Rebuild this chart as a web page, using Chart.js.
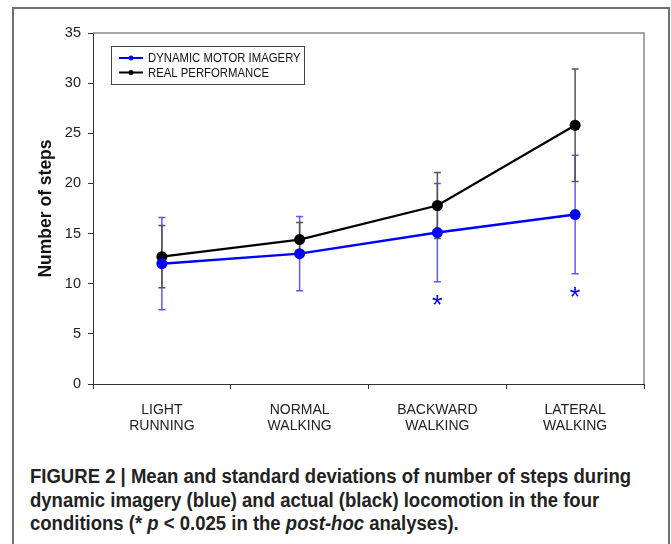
<!DOCTYPE html>
<html>
<head>
<meta charset="utf-8">
<title>Number of steps</title>
<script src="https://cdn.jsdelivr.net/npm/chart.js"></script>
<style>
  html, body { margin: 0; padding: 0; background: #fff; }
  body { width: 671px; height: 544px; position: relative; overflow: hidden; font-family: 'Liberation Sans', Arial, sans-serif; }
  .frame { position: absolute; left: 12px; top: 7px; width: 658px; height: 600px; border: 2px solid #707070; border-bottom: none; box-sizing: border-box; }
  .chart-box { position: absolute; left: 0; top: 0; width: 671px; height: 445px; }
  .caption { position: absolute; left: 30px; top: 465px; font-family: 'Liberation Sans', Arial, sans-serif; font-weight: bold; font-size: 19.5px; line-height: 23.5px; color: #222; white-space: nowrap; transform: scaleX(0.95); transform-origin: 0 0; }
</style>
</head>
<body>
  <div class="frame"></div>
  <div class="chart-box"><canvas id="stepsChart"></canvas></div>
  <div class="caption">FIGURE 2 | Mean and standard deviations of number of steps during<br>dynamic imagery (blue) and actual (black) locomotion in the four<br>conditions (* <i>p</i> &lt; 0.025 in the <i>post-hoc</i> analyses).</div>

<script>
// data
const categories = [['LIGHT', 'RUNNING'], ['NORMAL', 'WALKING'], ['BACKWARD', 'WALKING'], ['LATERAL', 'WALKING']];
const imageryMean = [12.0, 13.0, 15.1, 16.9];
const imagerySD = [4.6, 3.7, 4.9, 5.9];
const realMean = [12.7, 14.4, 17.8, 25.8];
const realSD = [3.1, 1.7, 3.3, 5.6];
// where the * marks sit (y value), null = no mark
const sigMarks = [null, null, 8.5, 9.3];
const yMin = 0, yMax = 35, yStep = 5;

const BLUE = '#0000ff';
const BLACK = '#000000';

// error bars + gray frame on top/right of plot
const errorBars = {
  id: 'errorBars',
  beforeDatasetsDraw(chart) {
    const { ctx, chartArea: a, scales: { x, y } } = chart;
    ctx.save();
    ctx.strokeStyle = '#8a8a8a';
    ctx.lineWidth = 1.5;
    ctx.beginPath();
    ctx.moveTo(a.left, a.top);
    ctx.lineTo(a.right, a.top);
    ctx.lineTo(a.right, a.bottom);
    ctx.stroke();

    const sets = [
      { mean: imageryMean, sd: imagerySD, color: '#5a5aff' },
      { mean: realMean, sd: realSD, color: '#555555' }
    ];
    sets.forEach(s => {
      ctx.strokeStyle = s.color;
      ctx.lineWidth = 1.5;
      s.mean.forEach((m, i) => {
        const px = x.getPixelForValue(i);
        const top = y.getPixelForValue(m + s.sd[i]);
        const bot = y.getPixelForValue(m - s.sd[i]);
        ctx.beginPath();
        ctx.moveTo(px, top); ctx.lineTo(px, bot);
        ctx.moveTo(px - 3.5, top); ctx.lineTo(px + 3.5, top);
        ctx.moveTo(px - 3.5, bot); ctx.lineTo(px + 3.5, bot);
        ctx.stroke();
      });
    });
    ctx.restore();
  },
  afterDraw(chart) {
    const { ctx, chartArea: a, scales: { x, y } } = chart;
    ctx.save();

    // y axis title
    ctx.translate(46, (a.top + a.bottom) / 2);
    ctx.rotate(-Math.PI / 2);
    ctx.font = 'bold 17.5px "Liberation Sans", Arial, sans-serif';
    ctx.fillStyle = '#111';
    ctx.textAlign = 'center';
    ctx.textBaseline = 'middle';
    ctx.fillText('Number of steps', 0, 0);
    ctx.setTransform(1, 0, 0, 1, 0, 0);

    // significance stars
    ctx.font = '27px "Liberation Sans", Arial, sans-serif';
    ctx.fillStyle = BLUE;
    ctx.textAlign = 'center';
    ctx.textBaseline = 'alphabetic';
    sigMarks.forEach((v, i) => {
      if (v === null) return;
      ctx.fillText('*', x.getPixelForValue(i), y.getPixelForValue(v) + 0.57 * 27);
    });

    // legend box
    const lx = a.left + 18, ly = a.top + 13, lw = 193, lh = 38;
    ctx.strokeStyle = '#444';
    ctx.lineWidth = 1;
    ctx.strokeRect(lx + 0.5, ly + 0.5, lw, lh);
    ctx.font = '13.5px "Liberation Sans", Arial, sans-serif';
    ctx.textAlign = 'left';
    ctx.textBaseline = 'middle';
    chart.data.datasets.forEach((ds, i) => {
      const cy = ly + 12 + i * 14.5;
      ctx.strokeStyle = ds.borderColor;
      ctx.lineWidth = 2;
      ctx.beginPath();
      ctx.moveTo(lx + 8, cy); ctx.lineTo(lx + 32, cy);
      ctx.stroke();
      ctx.fillStyle = ds.borderColor;
      ctx.beginPath();
      ctx.arc(lx + 20, cy, 2.5, 0, Math.PI * 2);
      ctx.fill();
      ctx.fillStyle = '#111';
      const w = ctx.measureText(ds.label).width * 0.84;
      ctx.fillText(ds.label, lx + 37, cy + 0.5, w);
    });
    ctx.restore();
  }
};

const ctx = document.getElementById('stepsChart').getContext('2d');
new Chart(ctx, {
  type: 'line',
  data: {
    labels: categories,
    datasets: [
      {
        label: 'DYNAMIC MOTOR IMAGERY',
        data: imageryMean,
        borderColor: BLUE,
        backgroundColor: BLUE,
        borderWidth: 2.5,
        pointRadius: 5.5,
        pointBorderWidth: 0,
        tension: 0
      },
      {
        label: 'REAL PERFORMANCE',
        data: realMean,
        borderColor: BLACK,
        backgroundColor: BLACK,
        borderWidth: 2.2,
        pointRadius: 5.5,
        pointBorderWidth: 0,
        tension: 0
      }
    ]
  },
  options: {
    responsive: true,
    maintainAspectRatio: false,
    animation: false,
    layout: { padding: { top: 33, right: 27, left: 0, bottom: 0 } },
    plugins: { legend: { display: false }, tooltip: { enabled: false } },
    scales: {
      x: {
        offset: true,
        grid: { offset: true, drawOnChartArea: false, drawTicks: true, tickLength: 5, color: '#333' },
        border: { color: '#333', width: 1 },
        ticks: {
          color: '#222',
          font: { family: 'Liberation Sans', size: 14, lineHeight: 1.15 },
          padding: 13,
          maxRotation: 0,
          autoSkip: false
        },
        afterFit(scale) { scale.height = 61; }
      },
      y: {
        min: yMin,
        max: yMax,
        grid: { drawOnChartArea: false, drawTicks: true, tickLength: 5, color: '#333' },
        border: { color: '#333', width: 1 },
        ticks: {
          stepSize: yStep,
          color: '#222',
          font: { family: 'Liberation Sans', size: 14.5 },
          padding: 7
        },
        afterFit(scale) { scale.width = 93; }
      }
    }
  },
  plugins: [errorBars]
});
</script>
</body>
</html>
